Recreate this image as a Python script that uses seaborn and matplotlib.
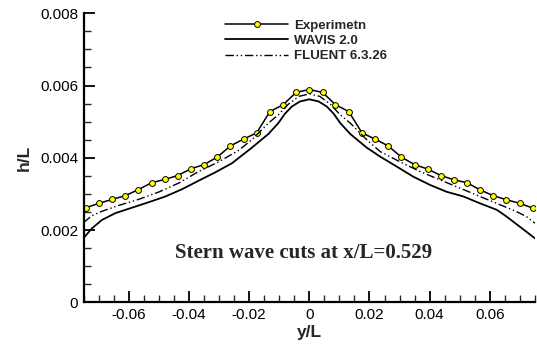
import pandas as pd
import seaborn as sns
import matplotlib.pyplot as plt
from matplotlib.ticker import MultipleLocator

# experiment (yellow dots)
exp_x = [-0.0742, -0.0699, -0.0655, -0.0612, -0.0568, -0.0524, -0.0481, -0.0437, -0.0393,
         -0.0350, -0.0306, -0.0262, -0.0218, -0.0175, -0.0131, -0.0087, -0.0044, 0.0,
         0.0044, 0.0087, 0.0131, 0.0175, 0.0218, 0.0262, 0.0306, 0.0350,
         0.0393, 0.0437, 0.0481, 0.0524, 0.0568, 0.0612, 0.0655, 0.0699, 0.0742]
exp_h = [0.00262, 0.00274, 0.00285, 0.00295, 0.00312, 0.00331, 0.00340, 0.00351, 0.00370,
         0.00381, 0.00402, 0.00433, 0.00452, 0.00469, 0.00528, 0.00547, 0.00581, 0.00589,
         0.00581, 0.00547, 0.00528, 0.00469, 0.00452, 0.00433, 0.00402, 0.00381,
         0.00369, 0.00351, 0.00339, 0.00331, 0.00311, 0.00295, 0.00284, 0.00274, 0.00261]

# WAVIS 2.0 (solid)
wavis_x = [-0.075, -0.0722, -0.0689, -0.0644, -0.0589, -0.0534, -0.0478, -0.0423, -0.0367,
           -0.0312, -0.0257, -0.0191, -0.0136, -0.0103, -0.0081, -0.0058, -0.0031, 0.0,
           0.0031, 0.0058, 0.0081, 0.0103, 0.0136, 0.0191, 0.0236, 0.0290, 0.0345,
           0.0401, 0.0456, 0.0512, 0.0567, 0.0623, 0.0656, 0.0700, 0.075]
wavis_h = [0.00178, 0.00205, 0.00228, 0.00247, 0.00262, 0.00277, 0.00293, 0.00313, 0.00337,
           0.00360, 0.00385, 0.00428, 0.00466, 0.00496, 0.00522, 0.00542, 0.00556, 0.00562,
           0.00556, 0.00542, 0.00522, 0.00496, 0.00466, 0.00428, 0.00403, 0.00376, 0.00348,
           0.00325, 0.00306, 0.00293, 0.00274, 0.00256, 0.00237, 0.00209, 0.00177]

# FLUENT 6.3.26 (dash-dot-dot)
fluent_x = [-0.075, -0.0722, -0.0689, -0.0634, -0.0567, -0.0501, -0.0434, -0.0368, -0.0301,
            -0.0236, -0.0191, -0.0136, -0.0103, -0.0070, -0.0035, 0.0,
            0.0035, 0.0070, 0.0103, 0.0136, 0.0191, 0.0236, 0.0301, 0.0368,
            0.0434, 0.0501, 0.0567, 0.0634, 0.0689, 0.0722, 0.075]
fluent_h = [0.00221, 0.00240, 0.00252, 0.00268, 0.00285, 0.00305, 0.00330, 0.00362, 0.00389,
            0.00420, 0.00450, 0.00496, 0.00519, 0.00548, 0.00570, 0.00577,
            0.00570, 0.00548, 0.00519, 0.00496, 0.00450, 0.00417, 0.00389, 0.00362,
            0.00339, 0.00316, 0.00293, 0.00270, 0.00251, 0.00237, 0.00219]

sns.set_style("ticks")
plt.rcParams['font.family'] = ['Liberation Sans', 'DejaVu Sans']

fig = plt.figure(figsize=(5.37, 3.44), dpi=100)
ax = fig.add_axes([0.1557, 0.1212, 0.8406, 0.8401])

sns.lineplot(x=exp_x, y=exp_h, ax=ax, color="black", lw=1.1, marker="o", markersize=4.2,
             markerfacecolor="#ffff00", markeredgecolor="black", markeredgewidth=0.7,
             label="Experimetn")
sns.lineplot(x=wavis_x, y=wavis_h, ax=ax, color="black", lw=1.3, label="WAVIS 2.0")
sns.lineplot(x=fluent_x, y=fluent_h, ax=ax, color="black", lw=1.0,
             dashes=(6, 2, 1, 2, 1, 2), label="FLUENT 6.3.26")

ax.set_xlim(-0.075, 0.075)
ax.set_ylim(0, 0.008)
ax.xaxis.set_minor_locator(MultipleLocator(0.005))
ax.yaxis.set_minor_locator(MultipleLocator(0.0005))
ax.set_xticks([-0.06, -0.04, -0.02, 0, 0.02, 0.04, 0.06])
ax.set_xticklabels(["-0.06", "-0.04", "-0.02", "0", "0.02", "0.04", "0.06"])
ax.set_yticks([0, 0.002, 0.004, 0.006, 0.008])
ax.set_yticklabels(["0", "0.002", "0.004", "0.006", "0.008"])

sns.despine(ax=ax)
for s in ["left", "bottom"]:
    ax.spines[s].set_linewidth(1.6)
    ax.spines[s].set_color("black")
ax.tick_params(which="major", direction="in", length=8, width=1.3, labelsize=11, pad=4, colors="black")
ax.tick_params(which="minor", direction="in", length=5, width=1.0)

ax.set_xlabel("y/L", fontsize=12.5, fontweight="bold", labelpad=2)
ax.set_ylabel("h/L", fontsize=12.5, fontweight="bold", labelpad=6)

leg = ax.legend(loc="upper left", bbox_to_anchor=(0.293, 1.01), frameon=False,
                handlelength=4.8, handletextpad=0.45, labelspacing=0.22, borderpad=0.2,
                prop={"weight": "bold", "size": 9.5})

ax.text(0.488, 0.171, "Stern wave cuts at x/L=0.529", transform=ax.transAxes,
        ha="center", va="center", fontsize=15, fontweight="bold", family="Liberation Serif")

plt.savefig("out.png", dpi=100)
